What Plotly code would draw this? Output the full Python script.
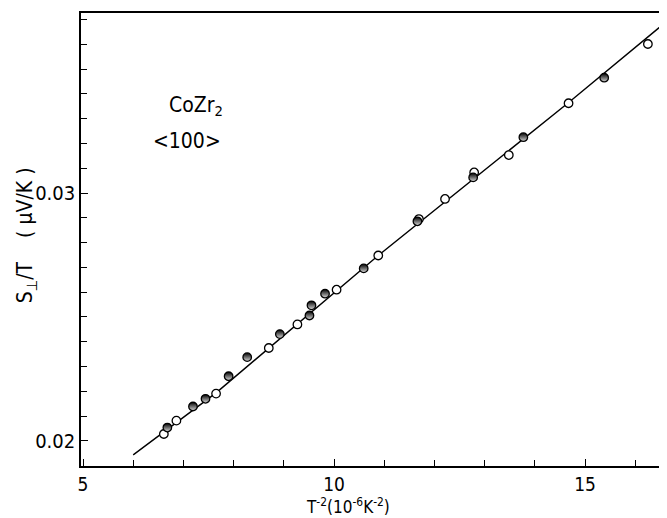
import plotly.graph_objects as go

# Open circles
open_x = [6.61, 6.86, 7.65, 8.70, 9.27, 10.05, 10.88, 11.69, 12.21, 12.79, 13.48, 14.67, 16.25]
open_y = [0.02028, 0.02082, 0.02191, 0.02375, 0.02470, 0.02610, 0.02748, 0.02895, 0.02976, 0.03083, 0.03153, 0.03362, 0.03601]

# Half-filled circles
half_x = [6.68, 7.19, 7.44, 7.90, 8.27, 8.92, 9.51, 9.55, 9.82, 10.59, 11.66, 12.77, 13.77, 15.38]
half_y = [0.02054, 0.02139, 0.02170, 0.02261, 0.02338, 0.02431, 0.02506, 0.02547, 0.02594, 0.02696, 0.02886, 0.03063, 0.03225, 0.03465]

# Fitted line
line_x = [6.0, 7.65, 10.88, 14.66, 16.79]
line_y = [0.01944, 0.02194, 0.02748, 0.03363, 0.03720]

x_ticks = [5, 10, 15]
y_ticks = [0.02, 0.03]
y_tick_labels = ["0.02", "0.03"]

FONT = "DejaVu Sans Condensed, Liberation Sans, sans-serif"

fig = go.Figure()
fig.add_trace(go.Scatter(x=line_x, y=line_y, mode="lines",
                         line=dict(color="black", width=1.4), hoverinfo="skip"))
fig.add_trace(go.Scatter(x=open_x, y=open_y, mode="markers",
                         marker=dict(symbol="circle", size=8.5, color="white",
                                     line=dict(color="black", width=1.3))))
fig.add_trace(go.Scatter(x=half_x, y=half_y, mode="markers",
                         marker=dict(symbol="circle", size=8.5, color="black",
                                     gradient=dict(type="vertical", color="#d8d8d8"),
                                     line=dict(color="black", width=1.3))))

fig.add_annotation(x=0.194, y=0.795, xref="paper", yref="paper",
                   xanchor="center", yanchor="middle",
                   text="CoZr<sub>2</sub>", showarrow=False,
                   font=dict(family=FONT, size=21, color="black"))
fig.add_annotation(x=0.178, y=0.717, xref="paper", yref="paper",
                   xanchor="center", yanchor="middle",
                   text="&lt;100&gt;", showarrow=False,
                   font=dict(family=FONT, size=21, color="black"))
# axis titles
fig.add_annotation(x=-0.092, y=0.51, xref="paper", yref="paper",
                   xanchor="center", yanchor="middle", textangle=-90,
                   text="S<sub>⊥</sub>/T    ( μV/K )", showarrow=False,
                   font=dict(family=FONT, size=21, color="black"))
fig.add_annotation(x=0.45, y=-0.114, xref="paper", yref="paper",
                   xanchor="center", yanchor="bottom", borderpad=0,
                   text="T<sup>-2</sup>(10<sup>-6</sup>K<sup>-2</sup>)", showarrow=False,
                   font=dict(family=FONT, size=17, color="black"))

fig.update_layout(
    width=667, height=518,
    margin=dict(l=73, r=0, t=5, b=60),
    paper_bgcolor="white", plot_bgcolor="white",
    showlegend=False,
    font=dict(family=FONT, size=20, color="black"),
)
fig.update_xaxes(
    range=[4.96, 16.79], showgrid=False, zeroline=False, automargin=False,
    showline=True, linecolor="black", linewidth=1.6, mirror=True,
    tickmode="array", tickvals=x_ticks, ticktext=[str(v) for v in x_ticks],
    ticks="inside", ticklen=7, tickcolor="black",
    tickfont=dict(family=FONT, size=19),
    minor=dict(dtick=1, tick0=5, ticks="inside", ticklen=6, tickcolor="black"),
)
fig.update_yaxes(
    range=[0.01899, 0.03726], showgrid=False, zeroline=False, automargin=False,
    showline=True, linecolor="black", linewidth=1.6,
    tickmode="array", tickvals=y_ticks, ticktext=y_tick_labels,
    ticks="inside", ticklen=7, tickcolor="black",
    tickfont=dict(family=FONT, size=20),
    minor=dict(dtick=0.001, tick0=0.02, ticks="inside", ticklen=6, tickcolor="black"),
)

fig.write_html("out.html")
